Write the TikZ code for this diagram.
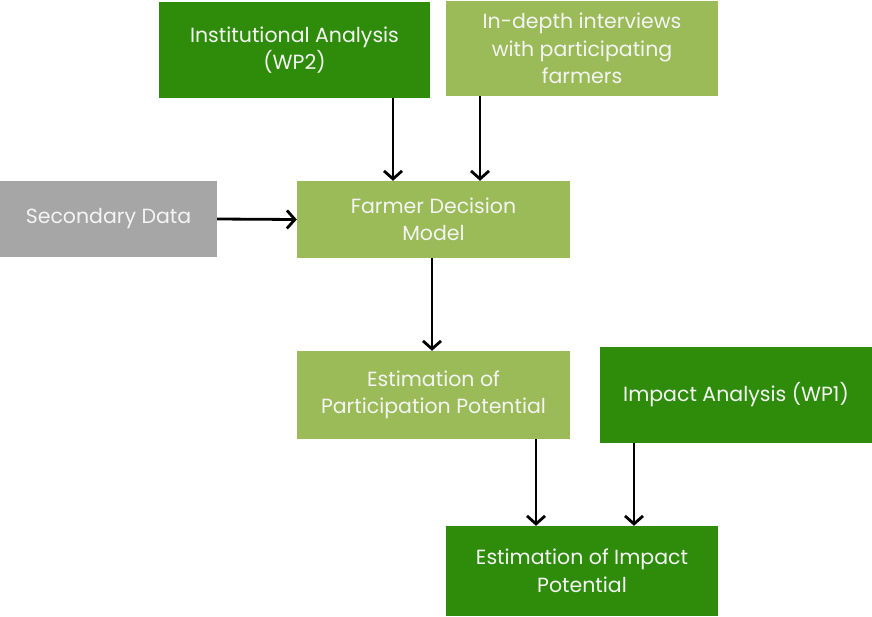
\documentclass[tikz,border=0pt]{standalone}
\usepackage{fontspec}
\setmainfont{Poppins}
\usetikzlibrary{arrows.meta}
\definecolor{darkleaf}{HTML}{2E8C0A}
\definecolor{lightleaf}{HTML}{9BBB59}
\definecolor{stone}{HTML}{A6A6A6}
\definecolor{paletext}{HTML}{F4F4F4}
\begin{document}
\begin{tikzpicture}[x=1pt,y=-1pt,
  box/.style={draw=none, inner sep=0pt, align=center, text=paletext,
    font=\fontsize{20.5}{27.5}\selectfont},
  arr/.style={line width=2.8pt, -{Straight Barb[length=8pt,width=18pt,line width=2.8pt]}}]
\useasboundingbox (0,0) rectangle (872,616);
% boxes, placed by their centres
\node[box, fill=darkleaf, minimum width=271pt, minimum height=96pt] (inst) at (294.5,50) {Institutional Analysis\\(WP2)};
\node[box, fill=lightleaf, minimum width=272pt, minimum height=95pt] (intv) at (582,48.5) {In-depth interviews\\with participating\\farmers};
\node[box, fill=stone, minimum width=217pt, minimum height=76pt] (sec) at (108.5,219) {Secondary Data};
\node[box, fill=lightleaf, minimum width=273pt, minimum height=77pt] (fdm) at (433.5,219.5) {Farmer Decision\\Model};
\node[box, fill=lightleaf, minimum width=273pt, minimum height=88pt] (epp) at (433.5,395) {Estimation of\\Participation Potential};
\node[box, fill=darkleaf, minimum width=272pt, minimum height=96pt] (ia) at (736,395) {Impact Analysis (WP1)};
\node[box, fill=darkleaf, minimum width=272pt, minimum height=90pt] (eip) at (582,571) {Estimation of Impact\\Potential};
% connectors
\draw[arr] (inst.south -| 393,0) -- (fdm.north -| 393,0);
\draw[arr] (intv.south -| 480,0) -- (fdm.north -| 480,0);
\draw[arr] (sec.east) -- (fdm.west);
\draw[arr] (fdm.south -| 432,0) -- (epp.north -| 432,0);
\draw[arr] (epp.south -| 536,0) -- (eip.north -| 536,0);
\draw[arr] (ia.south -| 634,0) -- (eip.north -| 634,0);
\end{tikzpicture}
\end{document}
